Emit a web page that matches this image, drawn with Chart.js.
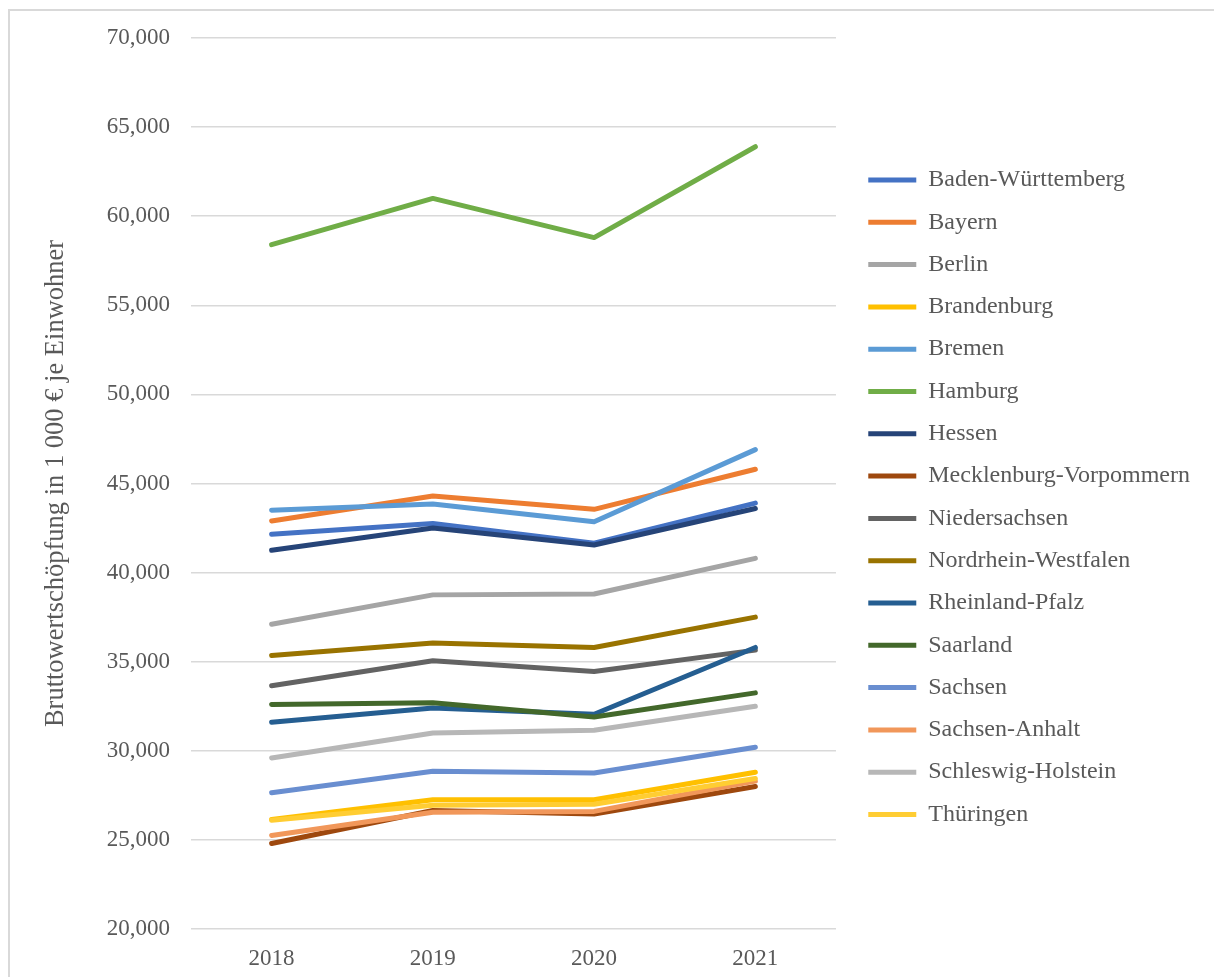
<!DOCTYPE html>
<html>
<head>
<meta charset="utf-8">
<script src="https://cdn.jsdelivr.net/npm/chart.js@4/dist/chart.umd.min.js"></script>
<style>
  html, body { margin: 0; padding: 0; background: #fff; overflow: hidden; }
  #frame { position: absolute; left: 8px; top: 9px; width: 1220px; height: 990px; border: 2px solid #d9d9d9; box-sizing: border-box; }
  #wrap { position: absolute; left: 0; top: 0; width: 1214px; height: 977px; }
</style>
</head>
<body>
<div id="frame"></div>
<div id="wrap"><canvas id="chart" width="1214" height="977"></canvas></div>
<script>
// Years on the x axis
const years = ['2018', '2019', '2020', '2021'];

// Gross value added per inhabitant, in 1 000 €
const badenWuerttemberg = [42150, 42750, 41650, 43900];
const bayern = [42900, 44300, 43550, 45800];
const berlin = [37100, 38750, 38800, 40800];
const brandenburg = [26150, 27250, 27250, 28800];
const bremen = [43500, 43850, 42850, 46900];
const hamburg = [58400, 61000, 58800, 63900];
const hessen = [41250, 42500, 41550, 43600];
const mecklenburgVorpommern = [24800, 26650, 26450, 28000];
const niedersachsen = [33650, 35050, 34450, 35650];
const nordrheinWestfalen = [35350, 36050, 35800, 37500];
const rheinlandPfalz = [31600, 32400, 32050, 35800];
const saarland = [32600, 32700, 31900, 33250];
const sachsen = [27650, 28850, 28750, 30200];
const sachsenAnhalt = [25250, 26550, 26600, 28300];
const schleswigHolstein = [29600, 31000, 31150, 32500];
const thueringen = [26100, 26950, 27000, 28450];

const seriesNames = [
  'Baden-Württemberg', 'Bayern', 'Berlin', 'Brandenburg', 'Bremen', 'Hamburg',
  'Hessen', 'Mecklenburg-Vorpommern', 'Niedersachsen', 'Nordrhein-Westfalen',
  'Rheinland-Pfalz', 'Saarland', 'Sachsen', 'Sachsen-Anhalt',
  'Schleswig-Holstein', 'Thüringen'
];
const seriesValues = [
  badenWuerttemberg, bayern, berlin, brandenburg, bremen, hamburg,
  hessen, mecklenburgVorpommern, niedersachsen, nordrheinWestfalen,
  rheinlandPfalz, saarland, sachsen, sachsenAnhalt, schleswigHolstein, thueringen
];
const seriesColors = [
  '#4472C4', '#ED7D31', '#A5A5A5', '#FFC000', '#5B9BD5', '#70AD47',
  '#264478', '#9E480E', '#636363', '#997300', '#255E91', '#43682B',
  '#698ED0', '#F1975A', '#B7B7B7', '#FFCD33'
];

const yTicks = { min: 20000, max: 70000, step: 5000 };

const textColor = '#595959';
const serif = '"Liberation Serif", "Times New Roman", serif';

const datasets = seriesNames.map((name, i) => ({
  label: name,
  data: seriesValues[i],
  borderColor: seriesColors[i],
  backgroundColor: seriesColors[i],
  borderWidth: 5,
  borderCapStyle: 'round',
  borderJoinStyle: 'round',
  pointRadius: 0,
  pointHoverRadius: 0,
  tension: 0,
  fill: false,
  // later series drawn on top, like the original
  order: -i
}));

const ctx = document.getElementById('chart').getContext('2d');
new Chart(ctx, {
  type: 'line',
  data: { labels: years, datasets: datasets },
  options: {
    responsive: false,
    animation: false,
    devicePixelRatio: 1,
    layout: { padding: { left: 36, top: 38, right: 14, bottom: 4 } },
    plugins: {
      tooltip: { enabled: false },
      legend: {
        position: 'right',
        align: 'start',
        maxWidth: 420,
        title: {
          display: true,
          text: ' ',
          font: { size: 10, lineHeight: 1 },
          padding: { top: 101.7, bottom: 0 }
        },
        labels: {
          color: textColor,
          font: { family: serif, size: 24 },
          usePointStyle: true,
          pointStyle: 'line',
          pointStyleWidth: 48,
          padding: 18.3,
          sort: (a, b) => a.datasetIndex - b.datasetIndex
        }
      }
    },
    scales: {
      x: {
        offset: true,
        afterFit: (scale) => { scale.height = 44; },
        grid: { display: false, drawTicks: false },
        border: { display: false },
        ticks: {
          color: textColor,
          font: { family: serif, size: 23 },
          padding: 16
        }
      },
      y: {
        min: yTicks.min,
        max: yTicks.max,
        afterFit: (scale) => { scale.width = 155; },
        ticks: {
          stepSize: yTicks.step,
          color: textColor,
          font: { family: serif, size: 23 },
          padding: 21,
          callback: (v) => v.toLocaleString('en-US')
        },
        grid: { color: '#d9d9d9', lineWidth: 1.5, drawTicks: false },
        border: { display: false },
        title: {
          display: true,
          text: 'Bruttowertschöpfung in 1 000 € je Einwohner',
          color: textColor,
          font: { family: serif, size: 26.5 },
          padding: 4
        }
      },
      // empty spacer between plot and legend
      gap: {
        position: 'right',
        display: true,
        afterFit: (scale) => { scale.width = 14; },
        grid: { display: false },
        border: { display: false },
        ticks: { display: false }
      }
    }
  }
});
</script>
</body>
</html>
